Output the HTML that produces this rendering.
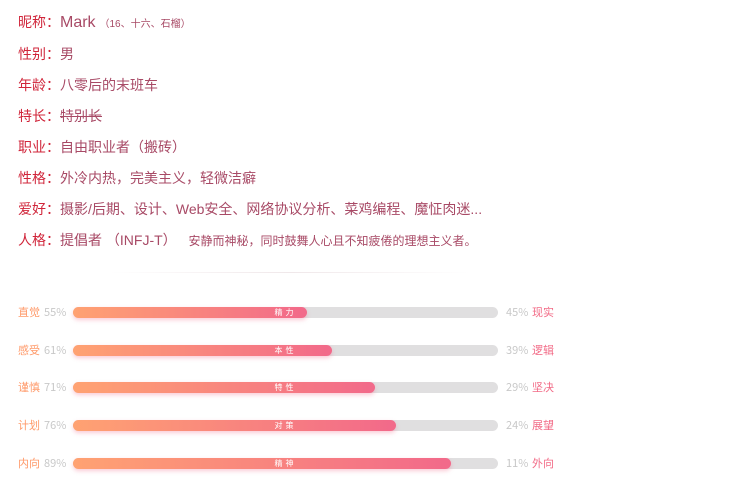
<!DOCTYPE html>
<html><head><meta charset="utf-8"><style>
body{margin:0;width:734px;height:500px;background:#fff;font-family:"Liberation Sans","Noto Sans CJK SC",sans-serif;overflow:hidden;position:relative}
.line{position:absolute;left:18px;font-size:14px;color:#a84a66;white-space:nowrap;line-height:20px}
.line b{font-weight:normal;color:#d0253a}
.small{font-size:10px}
.sep{position:absolute;left:110px;top:272px;width:360px;height:1px;background:linear-gradient(90deg,transparent,#f0e8ea,transparent)}
.row{position:absolute;left:0;width:734px;height:20px;font-size:11px;line-height:20px}
.row span{position:absolute;top:0;height:20px;line-height:20px;font-family:"Noto Sans CJK SC","Liberation Sans",sans-serif}
.ll{left:18px;color:#ff9a6a}
.lp{left:44px;color:#c8c8c8}
.rp{left:506px;color:#c8c8c8}
.rl{left:532px;color:#f26a86}
.track{position:absolute;left:73px;top:5px;width:425px;height:11px;border-radius:6px;background:#e0dfe0}
.fill{position:absolute;left:0;top:0;height:11px;border-radius:6px;background:linear-gradient(90deg,#ffa272,#f2698a);box-shadow:0 2px 4px rgba(242,105,138,.35)}
.bt{position:absolute;left:0;width:425px;top:0;line-height:11px;text-align:center;color:#fff;font-size:8px;letter-spacing:3px}
</style></head><body>
<div class="line" style="top:12px"><b>昵称：</b><span style="font-size:16px">Mark</span> <span class="small">（16、十六、石榴）</span></div>
<div class="line" style="top:44px"><b>性别：</b>男</div>
<div class="line" style="top:75px"><b>年龄：</b>八零后的末班车</div>
<div class="line" style="top:106px"><b>特长：</b><s>特别长</s></div>
<div class="line" style="top:137px"><b>职业：</b>自由职业者（搬砖）</div>
<div class="line" style="top:168px"><b>性格：</b>外冷内热，完美主义，轻微洁癖</div>
<div class="line" style="top:199px"><b>爱好：</b>摄影/后期、设计、Web安全、网络协议分析、菜鸡编程、魔怔肉迷...</div>
<div class="line" style="top:230px"><b>人格：</b>提倡者 （INFJ-T） <span style="font-size:12px;margin-left:8px">安静而神秘，同时鼓舞人心且不知疲倦的理想主义者。</span></div>
<div class="sep"></div>
<div id="bars"></div>
<script>
const leftLabels=["直觉","感受","谨慎","计划","内向"];
const rightLabels=["现实","逻辑","坚决","展望","外向"];
const barTitles=["精力","本性","特性","对策","精神"];
const values=[55,61,71,76,89];
const host=document.getElementById('bars');
values.forEach((v,i)=>{
  const r=document.createElement('div');r.className='row';r.style.top=(302+i*37.7)+'px';
  
  
  r.innerHTML='<span class="ll">'+leftLabels[i]+'</span><span class="lp">'+v+'%</span><div class="track"><div class="fill" style="width:'+(v/100*425)+'px"></div><div class="bt">'+barTitles[i]+'</div></div><span class="rp">'+(100-v)+'%</span><span class="rl">'+rightLabels[i]+'</span>';
  const f=r.querySelector('.fill');
  
  
  host.appendChild(r);
});
</script>
</body></html>
